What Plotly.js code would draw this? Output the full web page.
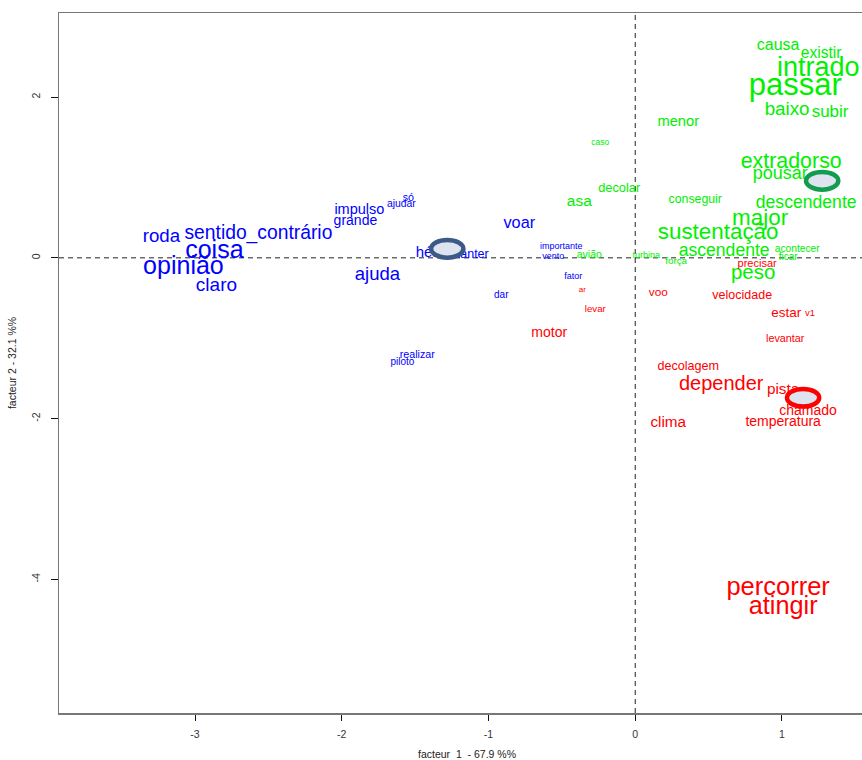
<!DOCTYPE html>
<html>
<head>
<meta charset="utf-8">
<script src="https://cdn.plot.ly/plotly-3.0.1.min.js"></script>
<style>
html,body{margin:0;padding:0;overflow:hidden;background:#fff;}
#chart{width:876px;height:760px;}
</style>
</head>
<body>
<div id="chart"></div>
<script>
// Class 1 (blue)
const blueWords = ["roda","sentido_contrário","coisa","opinião","claro","impulso","grande","só","ajudar","ajuda","hélice","manter","voar","importante","vento","fator","dar","realizar","piloto"];
const blueX = [-3.229,-2.568,-2.868,-3.079,-2.854,-1.880,-1.907,-1.546,-1.594,-1.757,-1.362,-1.131,-0.790,-0.504,-0.559,-0.422,-0.913,-1.485,-1.587];
const blueY = [0.249,0.299,0.075,-0.124,-0.348,0.585,0.448,0.746,0.659,-0.224,0.062,0.037,0.423,0.137,0.012,-0.236,-0.473,-1.219,-1.306];
const blueSize = [18.7,19.3,25,25,19,14.5,14,10.7,10.4,18.5,15,12.5,16.3,9,9,9,10,10.7,10];

// Class 2 (green)
const greenWords = ["caso","decolar","asa","avião","turbina","força","menor","conseguir","causa","existir","intrado","passar","baixo","subir","extradorso","pousar","descendente","major","sustentação","ascendente","acontecer","ficar","peso"];
const greenX = [-0.238,-0.109,-0.381,-0.313,0.075,0.279,0.293,0.409,0.974,1.267,1.247,1.090,1.035,1.328,1.063,0.988,1.165,0.851,0.565,0.606,1.104,1.042,0.804];
const greenY = [1.430,0.858,0.697,0.025,0.025,-0.050,1.692,0.721,2.637,2.537,2.351,2.127,1.841,1.803,1.182,1.032,0.672,0.473,0.299,0.075,0.100,0.000,-0.199];
const greenSize = [8.5,12.8,15.5,10.5,9,9.8,14.7,12.3,16,15.6,27,31,18.8,17,21.4,18,17.6,22.4,22.4,17.6,10.2,10,20.5];

// Class 3 (red)
const redWords = ["precisar","voo","velocidade","estar","v1","levantar","ar","levar","motor","decolagem","depender","pista","chamado","temperatura","clima","percorrer","atingir"];
const redX = [0.831,0.157,0.729,1.029,1.192,1.022,-0.361,-0.272,-0.586,0.361,0.586,1.008,1.178,1.008,0.225,0.974,1.008];
const redY = [-0.075,-0.435,-0.473,-0.697,-0.697,-1.020,-0.398,-0.647,-0.945,-1.356,-1.580,-1.642,-1.915,-2.052,-2.052,-4.117,-4.353];
const redSize = [11,11.8,12.5,13.5,9.5,10.8,8,9.7,14,12.6,20,15.3,14,14,15.3,25.5,25.3];

// Class centroids
const centroidX = [-1.281, 1.274, 1.144];
const centroidY = [0.112, 0.958, -1.741];

const xTicks = [-3,-2,-1,0,1];
const yTicks = [-4,-2,0,2];

const FONT = "Liberation Sans, Arial, sans-serif";

function textTrace(words, xs, ys, sizes, color){
  return {
    type: "scatter", mode: "text",
    x: xs, y: ys, text: words,
    textposition: "middle center",
    textfont: {family: FONT, size: sizes, color: color},
    hoverinfo: "text", showlegend: false, cliponaxis: false
  };
}

const traces = [
  textTrace(blueWords, blueX, blueY, blueSize, "#0000ff"),
  textTrace(greenWords, greenX, greenY, greenSize, "#00f000"),
  textTrace(redWords, redX, redY, redSize, "#ff0000")
];

const ringColors = ["#3b5b86", "#129c4e", "#ff0000"];
const R = 0.11;
const shapes = [
  {type:"line", xref:"x", yref:"paper", x0:0, x1:0, y0:0, y1:1, layer:"below",
   line:{color:"#222", width:1, dash:"5px,4px"}},
  {type:"line", xref:"paper", yref:"y", x0:0, x1:1, y0:0, y1:0, layer:"below",
   line:{color:"#222", width:1, dash:"5px,4px"}}
];
centroidX.forEach((cx, i) => {
  shapes.push({type:"circle", xref:"x", yref:"y", layer:"above",
    x0: cx - R, x1: cx + R, y0: centroidY[i] - R, y1: centroidY[i] + R,
    fillcolor:"#dde3ef", line:{color: ringColors[i], width: 4.5}});
});

const layout = {
  width: 876, height: 760,
  margin: {l: 59, r: 1, t: 13, b: 47},
  paper_bgcolor: "#fff", plot_bgcolor: "#fff",
  showlegend: false,
  font: {family: FONT, color: "#222", size: 10},
  xaxis: {
    range: [-3.927, 1.634], showgrid: false, zeroline: false,
    showline: true, mirror: true, linecolor: "#777", linewidth: 1.5,
    ticks: "outside", ticklen: 6, tickcolor: "#111", tickwidth: 1,
    tickvals: xTicks, ticktext: xTicks.map(String),
    tickfont: {size: 10.5, color: "#333"}, ticklabelstandoff: 5,
    title: {text: "facteur  1  - 67.9 %%", font: {size: 10.5, color: "#222"}, standoff: 11}
  },
  yaxis: {
    range: [-5.663, 3.046], showgrid: false, zeroline: false,
    showline: true, mirror: true, linecolor: "#777", linewidth: 1.5,
    ticks: "outside", ticklen: 7, tickcolor: "#111", tickwidth: 1,
    tickvals: yTicks, ticktext: yTicks.map(String), tickangle: -90,
    tickfont: {size: 10.5, color: "#333"}, ticklabelstandoff: 6,
    title: {text: "facteur 2 - 32.1 %%", font: {size: 10.5, color: "#222"}, standoff: 11}
  },
  shapes: shapes
};

Plotly.newPlot("chart", traces, layout, {displayModeBar: false, staticPlot: true});
</script>
</body>
</html>
